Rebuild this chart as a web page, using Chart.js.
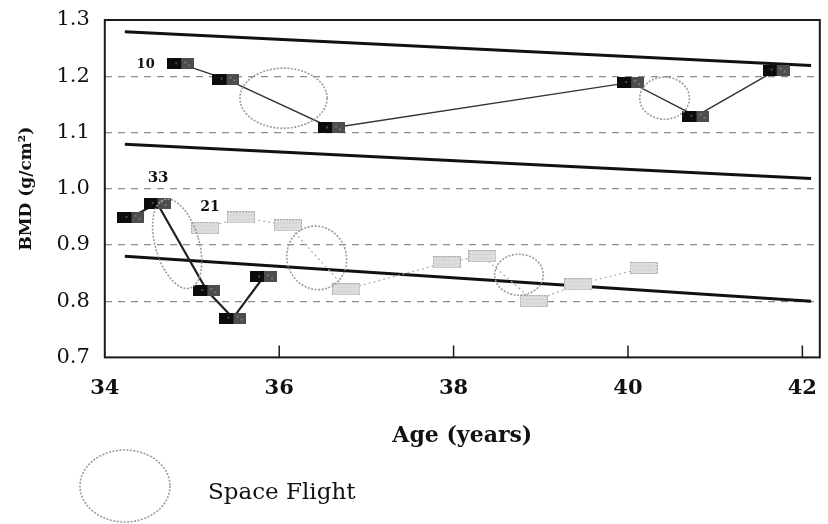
<!DOCTYPE html>
<html>
<head>
<meta charset="utf-8">
<script src="https://cdn.jsdelivr.net/npm/chart.js@4.4.1/dist/chart.umd.min.js"></script>
<style>
  html, body { margin: 0; padding: 0; background: #fff; }
  #wrap { position: relative; width: 828px; height: 524px; }
  canvas { display: block; }
</style>
</head>
<body>
<div id="wrap"><canvas id="bmd" width="828" height="524"></canvas></div>
<script>
// Subject 10 (high BMD group)
const AGE_10 = [34.87, 35.39, 36.60, 40.03, 40.78, 41.70];
const BMD_10 = [1.222, 1.195, 1.108, 1.189, 1.129, 1.211];

// Subject 33
const AGE_33 = [34.30, 34.60, 35.17, 35.47, 35.82];
const BMD_33 = [0.949, 0.974, 0.819, 0.770, 0.843];

// Subject 21
const AGE_21 = [35.15, 35.56, 36.10, 36.77, 37.92, 38.33, 38.92, 39.43, 40.18];
const BMD_21 = [0.930, 0.949, 0.935, 0.821, 0.869, 0.880, 0.800, 0.830, 0.859];

// Age-related reference lines
const LINE_AGE  = [34.23, 42.10];
const LINE_HIGH = [1.279, 1.219];
const LINE_MID  = [1.079, 1.018];
const LINE_LOW  = [0.880, 0.800];

// Space flights: centre (age, BMD) and half-extent in axis units
const FLIGHT_AGE    = [36.05, 40.42, 34.83, 36.43, 38.75];
const FLIGHT_BMD    = [1.161, 1.161, 0.902, 0.877, 0.847];
const FLIGHT_SPAN_X = [0.50, 0.285, 0.251, 0.34, 0.279];
const FLIGHT_SPAN_Y = [0.0534, 0.0374, 0.0819, 0.0570, 0.0365];
const FLIGHT_TILT   = [0, 0, -16, -20, 0];

const SERIES_TAGS = ['10', '33', '21'];
const X_TICKS = [34, 36, 38, 40, 42];
const Y_TICKS = [0.7, 0.8, 0.9, 1.0, 1.1, 1.2, 1.3];

const SERIF = '"DejaVu Serif", "Liberation Serif", serif';

function pairs(xs, ys) { return xs.map((x, i) => ({ x, y: ys[i] })); }

// two-tone dark marker
function darkMarker() {
  const c = document.createElement('canvas');
  c.width = 27; c.height = 11;
  const g = c.getContext('2d');
  g.fillStyle = '#0c0c0c'; g.fillRect(0, 0, 14, 11);
  g.fillStyle = '#4d4d4d'; g.fillRect(14, 0, 13, 11);
  g.fillStyle = 'rgba(200,200,200,0.35)';
  g.fillRect(17, 3, 2, 2); g.fillRect(21, 6, 2, 2); g.fillRect(8, 4, 2, 2);
  return c;
}
// pale speckled marker
function lightMarker() {
  const c = document.createElement('canvas');
  c.width = 28; c.height = 12;
  const g = c.getContext('2d');
  g.fillStyle = '#dedede'; g.fillRect(0, 0, 28, 12);
  g.strokeStyle = '#9a9a9a'; g.lineWidth = 1; g.setLineDash([1.5, 1.5]);
  g.strokeRect(0.5, 0.5, 27, 11);
  g.strokeStyle = '#c4c4c4'; g.beginPath();
  g.moveTo(3, 4); g.lineTo(25, 4); g.moveTo(3, 8); g.lineTo(25, 8); g.stroke();
  return c;
}
const DARK = darkMarker();
const LIGHT = lightMarker();

function refLine(ys) {
  return {
    data: pairs(LINE_AGE, ys),
    borderColor: '#111', borderWidth: 3, pointRadius: 0, tension: 0, tag: null
  };
}

// frame, inward tick marks
const framePlugin = {
  id: 'frame',
  afterDatasetsDraw(chart) {
    const { ctx, chartArea: a, scales } = chart;
    ctx.save();
    ctx.strokeStyle = '#1a1a1a';
    ctx.lineWidth = 2;
    ctx.strokeRect(a.left, a.top, a.right - a.left, a.bottom - a.top);
    ctx.lineWidth = 1.5;
    X_TICKS.slice(1).forEach(v => {
      const px = scales.x.getPixelForValue(v);
      ctx.beginPath(); ctx.moveTo(px, a.bottom); ctx.lineTo(px, a.bottom - 12); ctx.stroke();
    });
    ctx.restore();
  }
};

// space-flight ellipses
const flightPlugin = {
  id: 'flights',
  afterDatasetsDraw(chart) {
    const { ctx, scales: { x, y } } = chart;
    ctx.save();
    ctx.strokeStyle = '#9c9c9c';
    ctx.lineWidth = 1.6;
    ctx.setLineDash([2, 1.5]);
    FLIGHT_AGE.forEach((age, i) => {
      const cx = x.getPixelForValue(age);
      const cy = y.getPixelForValue(FLIGHT_BMD[i]);
      const rx = Math.abs(x.getPixelForValue(age + FLIGHT_SPAN_X[i]) - cx);
      const ry = Math.abs(y.getPixelForValue(FLIGHT_BMD[i] + FLIGHT_SPAN_Y[i]) - cy);
      ctx.beginPath();
      ctx.ellipse(cx, cy, rx, ry, FLIGHT_TILT[i] * Math.PI / 180, 0, Math.PI * 2);
      ctx.stroke();
    });
    ctx.restore();
  }
};

// subject numbers beside their series
const tagPlugin = {
  id: 'tags',
  afterDatasetsDraw(chart) {
    const { ctx } = chart;
    ctx.save();
    ctx.fillStyle = '#111';
    ctx.textAlign = 'center';
    ctx.textBaseline = 'middle';
    chart.data.datasets.forEach((ds, i) => {
      if (!ds.tag) return;
      const p = chart.getDatasetMeta(i).data[ds.tag.at];
      ctx.font = 'bold ' + ds.tag.size + 'px ' + SERIF;
      ctx.fillText(ds.tag.text, p.x + ds.tag.dx, p.y + ds.tag.dy);
    });
    ctx.restore();
  }
};

// legend key below the axis
const keyPlugin = {
  id: 'key',
  afterDraw(chart) {
    const { ctx } = chart;
    ctx.save();
    ctx.strokeStyle = '#9c9c9c';
    ctx.lineWidth = 1.6;
    ctx.setLineDash([2, 1.5]);
    ctx.beginPath();
    ctx.ellipse(125, 486, 45, 36, 0, 0, Math.PI * 2);
    ctx.stroke();
    ctx.setLineDash([]);
    ctx.fillStyle = '#111';
    ctx.font = '23px ' + SERIF;
    ctx.textBaseline = 'alphabetic';
    ctx.fillText('Space Flight', 208, 499);
    ctx.restore();
  }
};

new Chart(document.getElementById('bmd'), {
  type: 'line',
  data: {
    datasets: [
      {
        data: pairs(AGE_10, BMD_10),
        borderColor: '#333', borderWidth: 1.4, tension: 0,
        pointStyle: DARK, pointRadius: 6,
        tag: { text: SERIES_TAGS[0], at: 0, dx: -35, dy: 1, size: 13 }
      },
      {
        data: pairs(AGE_33, BMD_33),
        borderColor: '#222', borderWidth: 2.2, tension: 0,
        pointStyle: DARK, pointRadius: 6,
        tag: { text: SERIES_TAGS[1], at: 1, dx: 1, dy: -25, size: 15 }
      },
      {
        data: pairs(AGE_21, BMD_21),
        borderColor: '#b0b0b0', borderWidth: 1.3, borderDash: [2, 3], tension: 0,
        pointStyle: LIGHT, pointRadius: 6,
        tag: { text: SERIES_TAGS[2], at: 0, dx: 5, dy: -21, size: 14 }
      },
      refLine(LINE_HIGH),
      refLine(LINE_MID),
      refLine(LINE_LOW)
    ]
  },
  options: {
    responsive: false,
    animation: false,
    layout: { padding: { left: 8, top: 20, right: 4, bottom: 71 } },
    plugins: { legend: { display: false }, tooltip: { enabled: false } },
    scales: {
      x: {
        type: 'linear', min: 34, max: 42.2,
        afterBuildTicks: s => { s.ticks = X_TICKS.map(v => ({ value: v })); },
        afterFit: s => { s.paddingLeft = 0; s.paddingRight = 0; },
        grid: { display: false, drawTicks: false },
        border: { display: false },
        ticks: {
          padding: 19, color: '#111', autoSkip: false, maxRotation: 0,
          font: { family: SERIF, size: 21, weight: 'bold' }
        },
        title: {
          display: true, text: 'Age (years)', color: '#111',
          font: { family: SERIF, size: 22, weight: 'bold' },
          padding: { top: 2, bottom: 4 }
        }
      },
      y: {
        type: 'linear', min: 0.7, max: 1.3,
        afterBuildTicks: s => { s.ticks = Y_TICKS.map(v => ({ value: v })); },
        afterFit: s => { s.paddingTop = 0; s.paddingBottom = 0; },
        grid: {
          drawTicks: false, lineWidth: 1.2,
          color: c => (c.index === 0 || c.index === Y_TICKS.length - 1) ? 'rgba(0,0,0,0)' : '#8c8c8c'
        },
        border: { display: false, dash: [7, 6] },
        ticks: {
          padding: 15, color: '#111',
          font: { family: SERIF, size: 21 },
          callback: v => v.toFixed(1)
        },
        title: {
          display: true, text: 'BMD (g/cm²)', color: '#111',
          font: { family: SERIF, size: 17, weight: 'bold' },
          padding: { top: 8, bottom: 5 }
        }
      }
    }
  },
  plugins: [framePlugin, flightPlugin, tagPlugin, keyPlugin]
});
</script>
</body>
</html>
